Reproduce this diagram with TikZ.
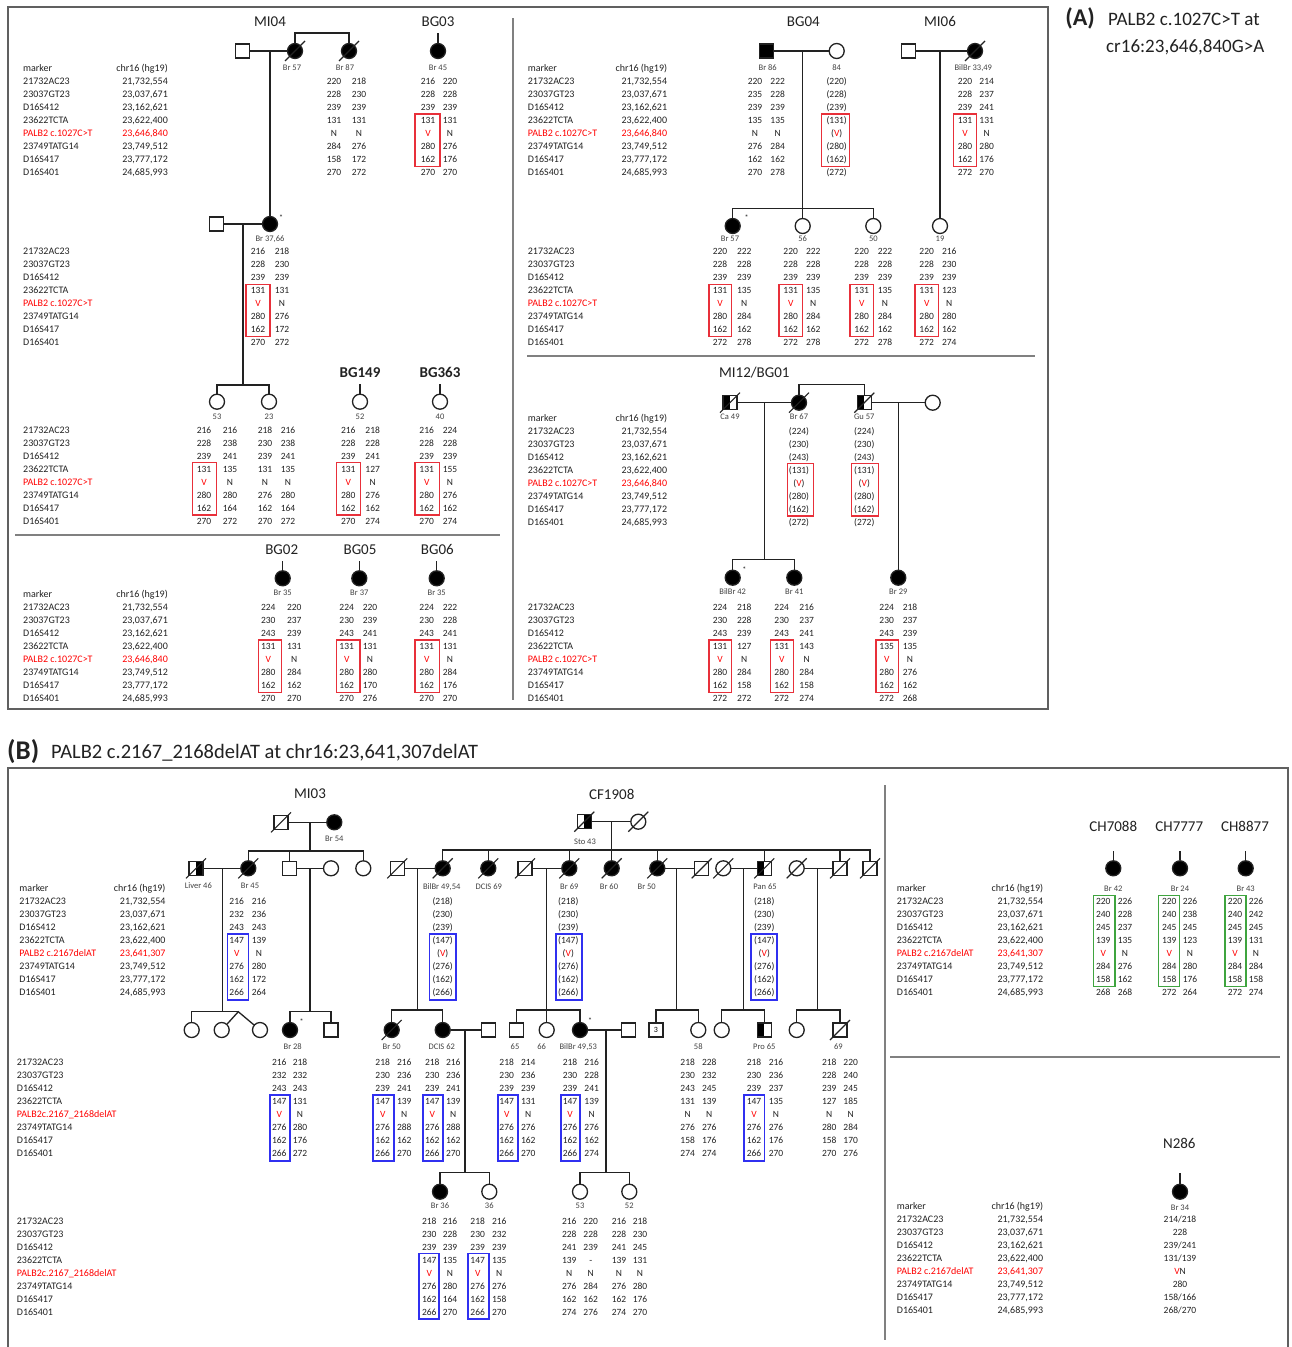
\documentclass[tikz,border=0pt]{standalone}
\usepackage{fontspec}
\setmainfont{Carlito}
\usetikzlibrary{calc}
\definecolor{tx}{HTML}{222222}
\definecolor{fr}{HTML}{606060}
\definecolor{rbox}{HTML}{E8303A}
\definecolor{bbox}{HTML}{3030F0}
\definecolor{gbox}{HTML}{3FA43F}
\newcommand{\V}{\textcolor{red}{V}}
\tikzset{
  gt/.style={font=\fontsize{9.5}{9.5}\selectfont, text=tx, inner sep=0pt, anchor=base},
  mk/.style={font=\fontsize{10}{10}\selectfont, text=tx, inner sep=0pt, anchor=base west},
  ch/.style={font=\fontsize{10}{10}\selectfont, text=tx, inner sep=0pt, anchor=base east},
  lab/.style={font=\fontsize{8.5}{8.5}\selectfont, text=tx!85, inner sep=0pt, anchor=base},
  ttl/.style={font=\fontsize{15}{15}\selectfont, text=tx, inner sep=0pt},
  star/.style={font=\fontsize{8}{8}\selectfont, text=tx, inner sep=0pt},
  ped/.style={line width=1.3pt, draw=tx},
  male/.style={rectangle, draw=tx, line width=1.3pt, minimum size=14pt, inner sep=0pt, fill=white},
  female/.style={circle, draw=tx, line width=1.3pt, minimum size=15pt, inner sep=0pt, fill=white},
  aff/.style={fill=black},
  halfL/.style={path picture={\fill[black] (path picture bounding box.south west) rectangle (path picture bounding box.north);}},
  halfR/.style={path picture={\fill[black] (path picture bounding box.south) rectangle (path picture bounding box.north east);}},
  frame/.style={draw=fr, line width=1.8pt},
  divl/.style={draw=fr!80, line width=1.5pt},
  rb/.style={draw=rbox, line width=1.4pt},
  bb/.style={draw=bbox, line width=1.8pt},
  gb/.style={draw=gbox, line width=1.4pt},
}
% genotype pair columns: name, x1, x2, y0, list
\newcommand{\gp}[5]{\foreach \ga/\gb [count=\i from 0] in {#5} {\node[gt] (#1a\i) at (#2,#4+3+13*\i) {\ga}; \node[gt] (#1b\i) at (#3,#4+3+13*\i) {\gb};}}
% single parenthesised column
\newcommand{\gs}[4]{\foreach \ga [count=\i from 0] in {#4} {\node[gt] (#1s\i) at (#2,#3+3+13*\i) {(\ga)};}}
% box: style, xc, halfwidth, y0, firstrow, lastrow
\newcommand{\bx}[6]{\draw[#1] (#2-#3,#4+13*#5-6.5) rectangle (#2+#3,#4+13*#6+7);}
% marker list
\newcommand{\mlist}[4]{\foreach \m [count=\i from 0] in {21732AC23,23037GT23,D16S412,23622TCTA,{\textcolor{red}{#4}},23749TATG14,D16S417,D16S401} {\node[mk] (#1m\i) at (#2,#3+3+13*\i) {\m};}}
\newcommand{\clist}[4]{\foreach \m [count=\i from 0] in {{21,732,554},{23,037,671},{23,162,621},{23,622,400},{\textcolor{red}{#4}},{23,749,512},{23,777,172},{24,685,993}} {\node[ch] (#1c\i) at (#2,#3+3+13*\i) {\m};}}
\newcommand{\mhead}[4]{\node[mk] (#1h1) at (#2,#4-10) {marker}; \node[ch] (#1h2) at (#3,#4-10) {chr16 (hg19)};}
\newcommand{\dec}[1]{\draw[ped,line width=1.1pt] ([shift={(-10,10)}]#1.center) -- ([shift={(10,-10)}]#1.center);}
\begin{document}
\begin{tikzpicture}[x=1pt,y=-1pt]
\useasboundingbox (0,0) rectangle (1292,1347);
\fill[white] (0,0) rectangle (1292,1347);
%================ SECTION A =================
\draw[frame] (8,7) rectangle (1048,709);
\draw[divl] (513,18) -- (513,700);
\draw[divl] (15,535) -- (500,535);
\draw[divl] (527,356) -- (1035,356);
\node[font=\bfseries\fontsize{24}{24}\selectfont, text=tx, inner sep=0pt] (tA) at (1080,18) {(A)};
\node[font=\fontsize{19}{19}\selectfont, text=tx, inner sep=0pt, anchor=west] (tA1) at (1108,19) {PALB2 c.1027C>T at};
\node[font=\fontsize{19}{19}\selectfont, text=tx, inner sep=0pt, anchor=west] (tA2) at (1106,47) {cr16:23,646,840G>A};
% ---- A left top: MI04, BG03
\node[ttl] (tMI04) at (270,21.7) {MI04};
\node[ttl] (tBG03) at (438,21.7) {BG03};
\mhead{A1}{23}{168}{81.3}
\mlist{A1}{23}{81.3}{PALB2 c.1027C>T}
\clist{A1}{168}{81.3}{23,646,840}
\node[male] (a1) at (242.5,51) {};
\node[female,aff] (a2) at (295,51) {};
\node[female,aff] (a3) at (349,51) {};
\node[female,aff] (a4) at (438,51) {};
\dec{a2}\dec{a3}
\draw[ped] (a1) -- (a2);
\draw[ped] (a2) -- (295,33) -- (349,33) -- (a3);
\draw[ped] (a4) -- ++(0,-18);
\node[lab] (la2) at (292,70) {Br 57};
\node[lab] (la3) at (345,70) {Br 87};
\node[lab] (la4) at (438,70) {Br 45};
\gp{g1}{334}{359}{81.3}{220/218,228/230,239/239,131/131,N/N,284/276,158/172,270/272}
\gp{g2}{428}{450}{81.3}{216/220,228/228,239/239,131/131,\V/N,280/276,162/176,270/270}
\bx{rb}{427.5}{12.5}{81.3}{3}{6}
\node[male] (a5) at (216.7,224) {};
\node[female,aff] (a6) at (270,224) {};
\node[star] (s1) at (281,218) {*};
\draw[ped] (270,51) -- (a6);
\draw[ped] (a5) -- (a6);
\draw[ped] (243,224) -- (243,385);
\node[lab] (la6) at (270,241) {Br 37,66};
\mlist{A2}{23}{251.7}{PALB2 c.1027C>T}
\gp{g3}{258}{282}{251.7}{216/218,228/230,239/239,131/131,\V/N,280/276,162/172,270/272}
\bx{rb}{258}{12}{251.7}{3}{6}
% ---- A left middle
\node[ttl,font=\bfseries\fontsize{15}{15}\selectfont] (tBG149) at (360,372.3) {BG149};
\node[ttl,font=\bfseries\fontsize{15}{15}\selectfont] (tBG363) at (440,372.3) {BG363};
\node[female] (d1) at (217,401.7) {};
\node[female] (d2) at (269,401.7) {};
\node[female] (d3) at (360,401.7) {};
\node[female] (d4) at (440,401.7) {};
\draw[ped] (d1) -- (217,385) -- (269,385) -- (d2);
\draw[ped] (d3) -- ++(0,-17.7);
\draw[ped] (d4) -- ++(0,-17.7);
\node[lab] (ld1) at (217,419.7) {53};
\node[lab] (ld2) at (269,419.7) {23};
\node[lab] (ld3) at (360,419.7) {52};
\node[lab] (ld4) at (440,419.7) {40};
\mlist{A3}{23}{430}{PALB2 c.1027C>T}
\gp{g4}{204}{230}{430}{216/216,228/238,239/241,131/135,\V/N,280/280,162/164,270/272}
\gp{g5}{265}{288}{430}{218/216,230/238,239/241,131/135,N/N,276/280,162/164,270/272}
\gp{g6}{348.3}{372.7}{430}{216/218,228/228,239/241,131/127,\V/N,280/276,162/162,270/274}
\gp{g7}{426.7}{450}{430}{216/224,228/228,239/239,131/155,\V/N,280/276,162/162,270/274}
\bx{rb}{204.7}{12}{430}{3}{6}
\bx{rb}{348.7}{12}{430}{3}{6}
\bx{rb}{427.2}{12.2}{430}{3}{6}
% ---- A left bottom
\node[ttl] (tBG02) at (281.7,549.3) {BG02};
\node[ttl] (tBG05) at (360,549.3) {BG05};
\node[ttl] (tBG06) at (437.3,549.3) {BG06};
\node[female,aff] (e1) at (282.7,578.3) {};
\node[female,aff] (e2) at (359.3,578.3) {};
\node[female,aff] (e3) at (436.7,578.3) {};
\draw[ped] (e1) -- ++(0,-17);
\draw[ped] (e2) -- ++(0,-17);
\draw[ped] (e3) -- ++(0,-17);
\node[lab] (le1) at (282.7,595.3) {Br 35};
\node[lab] (le2) at (359.3,595.3) {Br 37};
\node[lab] (le3) at (436.7,595.3) {Br 35};
\mhead{A4}{23}{168}{607.3}
\mlist{A4}{23}{607.3}{PALB2 c.1027C>T}
\clist{A4}{168}{607.3}{23,646,840}
\gp{g8}{268.3}{294.3}{607.3}{224/220,230/237,243/239,131/131,\V/N,280/284,162/162,270/270}
\gp{g9}{346.7}{370}{607.3}{224/220,230/239,243/241,131/131,\V/N,280/280,162/170,270/276}
\gp{g10}{426.7}{450}{607.3}{224/222,230/228,243/241,131/131,\V/N,280/284,162/176,270/270}
\bx{rb}{269.7}{11.5}{607.3}{3}{6}
\bx{rb}{348.3}{11.7}{607.3}{3}{6}
\bx{rb}{427.2}{12.2}{607.3}{3}{6}
% ---- A right top: BG04, MI06
\node[ttl] (tBG04) at (803.3,21.7) {BG04};
\node[ttl] (tMI06) at (940,21.7) {MI06};
\mhead{A5}{527.7}{667.3}{81.3}
\mlist{A5}{527.7}{81.3}{PALB2 c.1027C>T}
\clist{A5}{667.3}{81.3}{23,646,840}
\node[male,aff] (b1) at (766.7,51) {};
\node[female] (b2) at (836.7,51) {};
\draw[ped] (b1) -- (b2);
\node[female,aff] (b3) at (732.7,226) {};
\node[female] (b4) at (802.7,226) {};
\node[female] (b5) at (873.3,226) {};
\node[star] (s2) at (746.7,218) {*};
\draw[ped] (802.7,51) -- (b4);
\draw[ped] (b3) -- (732.7,208.3) -- (873.3,208.3) -- (b5);
\node[male] (b6) at (908.3,51) {};
\node[female,aff] (b7) at (975,51) {};
\dec{b7}
\draw[ped] (b6) -- (b7);
\node[female] (b8) at (940,226) {};
\draw[ped] (940,51) -- (b8);
\node[lab] (lb1) at (767.7,70) {Br 86};
\node[lab] (lb2) at (836.7,70) {84};
\node[lab] (lb7) at (973.3,70) {BilBr 33,49};
\node[lab] (lb3) at (730,241.3) {Br 57};
\node[lab] (lb4) at (802.7,241.3) {56};
\node[lab] (lb5) at (873.3,241.3) {50};
\node[lab] (lb8) at (940,241.3) {19};
\gp{g11}{755}{777.7}{81.3}{220/222,235/228,239/239,135/135,N/N,276/284,162/162,270/278}
\gs{g12}{836.7}{81.3}{220,228,239,131,\V,280,162,272}
\bx{rb}{835.5}{13.8}{81.3}{3}{6}
\gp{g13}{965}{986.7}{81.3}{220/214,228/237,239/241,131/131,\V/N,280/280,162/176,272/270}
\bx{rb}{964.7}{11.5}{81.3}{3}{6}
\mlist{A6}{527.7}{251.7}{PALB2 c.1027C>T}
\gp{g14}{720}{744.3}{251.7}{220/222,228/228,239/239,131/135,\V/N,280/284,162/162,272/278}
\gp{g15}{790.7}{813.3}{251.7}{220/222,228/228,239/239,131/135,\V/N,280/284,162/162,272/278}
\gp{g16}{861.7}{885}{251.7}{220/222,228/228,239/239,131/135,\V/N,280/284,162/162,272/278}
\gp{g17}{926.7}{949.3}{251.7}{220/216,228/230,239/239,131/123,\V/N,280/280,162/162,272/274}
\bx{rb}{720.3}{11.3}{251.7}{3}{6}
\bx{rb}{790.8}{11.8}{251.7}{3}{6}
\bx{rb}{861.7}{11.7}{251.7}{3}{6}
\bx{rb}{926.7}{11.7}{251.7}{3}{6}
% ---- A right bottom: MI12/BG01
\node[ttl] (tMI12) at (754.3,372.7) {MI12/BG01};
\mhead{A7}{527.7}{667.3}{431}
\mlist{A7}{527.7}{431}{PALB2 c.1027C>T}
\clist{A7}{667.3}{431}{23,646,840}
\node[male,halfL] (c1) at (730,402.7) {};
\node[female,aff] (c2) at (799,402.7) {};
\node[male,halfL] (c3) at (864.3,402.7) {};
\node[female] (c4) at (932.7,402.7) {};
\dec{c1}\dec{c2}\dec{c3}
\draw[ped] (c2) -- (799,384.3) -- (864.3,384.3) -- (c3);
\draw[ped] (c1) -- (c2);
\draw[ped] (c3) -- (c4);
\node[female,aff] (c5) at (732.7,577.7) {};
\node[female,aff] (c6) at (794.3,577.7) {};
\node[female,aff] (c7) at (898.3,577.7) {};
\node[star] (s3) at (744.3,570) {*};
\draw[ped] (764.3,402.7) -- (764.3,559.3);
\draw[ped] (c5) -- (732.7,559.3) -- (794.3,559.3) -- (c6);
\draw[ped] (898.3,402.7) -- (c7);
\node[lab] (lc1) at (730,419) {Ca 49};
\node[lab] (lc2) at (799,419) {Br 67};
\node[lab] (lc3) at (864.3,419) {Gu 57};
\node[lab] (lc5) at (732.7,594.7) {BilBr 42};
\node[lab] (lc6) at (794.3,594.7) {Br 41};
\node[lab] (lc7) at (898.3,594.7) {Br 29};
\gs{g18}{799}{431}{224,230,243,131,\V,280,162,272}
\gs{g19}{864.3}{431}{224,230,243,131,\V,280,162,272}
\bx{rb}{800.5}{12.8}{431}{3}{6}
\bx{rb}{865}{13.3}{431}{3}{6}
\mlist{A8}{527.7}{607.3}{PALB2 c.1027C>T}
\gp{g20}{720}{744.3}{607.3}{224/218,230/228,243/239,131/127,\V/N,280/284,162/158,272/272}
\gp{g21}{781.7}{806.7}{607.3}{224/216,230/237,243/241,131/143,\V/N,280/284,162/158,272/274}
\gp{g22}{886.7}{910}{607.3}{224/218,230/237,243/239,135/135,\V/N,280/276,162/162,272/268}
\bx{rb}{720.3}{11.3}{607.3}{3}{6}
\bx{rb}{782}{11.3}{607.3}{3}{6}
\bx{rb}{887.2}{11.2}{607.3}{3}{6}
%================ SECTION B =================
\node[font=\bfseries\fontsize{27}{27}\selectfont, text=tx, inner sep=0pt, anchor=west] (tB) at (7,752) {(B)};
\node[font=\fontsize{20.5}{20.5}\selectfont, text=tx, inner sep=0pt, anchor=west] (tB1) at (51,753) {PALB2 c.2167\_2168delAT at chr16:23,641,307delAT};
\draw[frame] (8,1347) -- (8,768) -- (1288,768) -- (1288,1347);
\draw[divl] (885,785) -- (885,1340);
\draw[divl] (890,1057) -- (1280,1057);
% ---- MI03
\node[ttl] (tMI03) at (310,793.3) {MI03};
\mhead{B1}{19.3}{165.7}{901.7}
\mlist{B1}{19.3}{901.7}{PALB2 c.2167delAT}
\clist{B1}{165.7}{901.7}{23,641,307}
\node[male] (f1) at (281,822.3) {};
\node[female,aff] (f2) at (334.3,822.3) {};
\dec{f1}
\draw[ped] (f1) -- (f2);
\draw[ped] (310,822.3) -- (310,851);
\node[female,aff] (f3) at (248.3,868.3) {};
\node[male] (f4) at (289.3,868.3) {};
\node[female] (f5) at (331,868.3) {};
\node[female] (f6) at (363.3,868.3) {};
\node[male,halfR] (f0) at (196,868.3) {};
\dec{f3}\dec{f0}
\draw[ped] (f3) -- (248.3,851) -- (363.3,851) -- (f6);
\draw[ped] (289.3,851) -- (f4);
\draw[ped] (f0) -- (f3);
\draw[ped] (f4) -- (f5);
\draw[ped] (222.3,868.3) -- (222.3,1011.7);
\draw[ped] (310,868.3) -- (310,1011.7);
\node[female] (f7) at (191.7,1030) {};
\node[female] (f8) at (221.7,1030) {};
\node[female] (f9) at (260,1030) {};
\draw[ped] (f7) -- (191.7,1011.7) -- (238.3,1011.7);
\draw[ped] (f8) -- (238.3,1011.7) -- (f9);
\node[female,aff] (f10) at (290,1030) {};
\node[male] (f11) at (331,1030) {};
\node[star] (s4) at (301.7,1022) {*};
\draw[ped] (f10) -- (290,1011.7) -- (331,1011.7) -- (f11);
\node[lab] (lf2) at (334.3,841.3) {Br 54};
\node[lab] (lf0) at (198.3,888) {Liver 46};
\node[lab] (lf3) at (250,888) {Br 45};
\node[lab] (lf10) at (292.7,1049.7) {Br 28};
\gp{h01}{236.7}{259}{901.7}{216/216,232/236,243/243,147/139,\V/N,276/280,162/172,266/264}
\bx{bb}{238}{10.5}{901.7}{3}{7}
% ---- CF1908
\node[ttl] (tCF) at (611.7,794) {CF1908};
\node[male,halfR] (h1) at (584.3,821.7) {};
\node[female] (h2) at (638.3,821.7) {};
\dec{h1}\dec{h2}
\draw[ped] (h1) -- (h2);
\node[lab] (lh1) at (585,844.7) {Sto 43};
\node[male] (h3) at (397.3,868.3) {};
\node[female,aff] (h4) at (442.7,868.3) {};
\node[female,aff] (h5) at (488.3,868.3) {};
\node[male] (h6) at (525,868.3) {};
\node[female,aff] (h7) at (569.3,868.3) {};
\node[female,aff] (h8) at (611.7,868.3) {};
\node[female,aff] (h9) at (657.3,868.3) {};
\node[male] (h10) at (701.7,868.3) {};
\node[female] (h11) at (723.3,868.3) {};
\node[male,halfL] (h12) at (764.3,868.3) {};
\node[female] (h13) at (796.7,868.3) {};
\node[male] (h14) at (840,868.3) {};
\node[male] (h15) at (870,868.3) {};
\foreach \n in {h3,h4,h5,h6,h7,h8,h9,h10,h11,h12,h13,h14,h15} {\dec{\n}}
\draw[ped] (611.7,821.7) -- (h8);
\draw[ped] (h4) -- (442.7,850) -- (870,850) -- (h15);
\draw[ped] (488.3,850) -- (h5);
\draw[ped] (569.3,850) -- (h7);
\draw[ped] (657.3,850) -- (h9);
\draw[ped] (764.3,850) -- (h12);
\draw[ped] (840,850) -- (h14);
\draw[ped] (h3) -- (h4);
\draw[ped] (h6) -- (h7);
\draw[ped] (h9) -- (h10);
\draw[ped] (h11) -- (h12);
\draw[ped] (h13) -- (h14);
\draw[ped] (417.7,868.3) -- (417.7,1010);
\draw[ped] (676.7,868.3) -- (676.7,1010);
\draw[ped] (743.3,868.3) -- (743.3,1010);
\draw[ped] (817.7,868.3) -- (817.7,1010);
\node[lab] (lh4) at (441.7,889) {BilBr 49,54};
\node[lab] (lh5) at (488.7,889) {DCIS 69};
\node[lab] (lh7) at (569.3,889) {Br 69};
\node[lab] (lh8) at (609,889) {Br 60};
\node[lab] (lh9) at (646.7,889) {Br 50};
\node[lab] (lh12) at (765,889) {Pan 65};
\gs{h02}{442.7}{901.7}{218,230,239,147,\V,276,162,266}
\gs{h03}{568.3}{901.7}{218,230,239,147,\V,276,162,266}
\gs{h04}{764.3}{901.7}{218,230,239,147,\V,276,162,266}
\bx{bb}{442.7}{13.3}{901.7}{3}{7}
\bx{bb}{568.7}{13}{901.7}{3}{7}
\bx{bb}{764}{13.3}{901.7}{3}{7}
% children row
\node[female,aff] (k1) at (391.7,1030) {};
\node[female,aff] (k2) at (442.7,1030) {};
\node[male] (k3) at (488.3,1030) {};
\dec{k1}
\draw[ped] (k1) -- (391.7,1010) -- (442.7,1010) -- (k2);
\draw[ped] (k2) -- (k3);
\draw[ped] (465,1030) -- (465,1172.7);
\node[male] (k4) at (516.7,1030) {};
\node[female] (k5) at (546.7,1030) {};
\node[female,aff] (k6) at (580,1030) {};
\node[male] (k7) at (628.3,1030) {};
\node[star] (s5) at (590,1020.7) {*};
\draw[ped] (546.7,868.3) -- (k5);
\draw[ped] (k4) -- (516.7,1010) -- (580,1010) -- (k6);
\draw[ped] (k6) -- (k7);
\draw[ped] (606,1030) -- (606,1172.7);
\node[male] (k8) at (656,1030) {\fontsize{8}{8}\selectfont 3};
\node[female] (k9) at (698.3,1030) {};
\draw[ped] (k8) -- (656,1010) -- (698.3,1010) -- (k9);
\node[female] (k10) at (721.7,1030) {};
\node[male,halfL] (k11) at (764.3,1030) {};
\draw[ped] (k10) -- (721.7,1010) -- (764.3,1010) -- (k11);
\node[female] (k12) at (796.7,1030) {};
\node[male] (k13) at (840,1030) {};
\dec{k13}
\draw[ped] (k12) -- (796.7,1010) -- (840,1010) -- (k13);
\node[lab] (lk1) at (391.7,1049.7) {Br 50};
\node[lab] (lk2) at (441.7,1049.7) {DCIS 62};
\node[lab] (lk4) at (515,1049.7) {65};
\node[lab] (lk5) at (541.7,1049.7) {66};
\node[lab] (lk6) at (578.3,1049.7) {BilBr 49,53};
\node[lab] (lk9) at (698.3,1049.7) {58};
\node[lab] (lk11) at (764.3,1049.7) {Pro 65};
\node[lab] (lk13) at (838.3,1049.7) {69};
\mlist{B2}{16.7}{1062.7}{PALB2c.2167\_2168delAT}
\gp{h05}{279.3}{300}{1062.7}{216/218,232/232,243/243,147/131,\V/N,276/280,162/176,266/272}
\gp{h06}{382.7}{404.3}{1062.7}{218/216,230/236,239/241,147/139,\V/N,276/288,162/162,266/270}
\gp{h07}{432.3}{453.3}{1062.7}{218/216,230/236,239/241,147/139,\V/N,276/288,162/162,266/270}
\gp{h08}{506.7}{528.3}{1062.7}{218/214,230/236,239/239,147/131,\V/N,276/276,162/162,266/270}
\gp{h09}{570}{591.7}{1062.7}{218/216,230/228,239/241,147/139,\V/N,276/276,162/162,266/274}
\gp{h10}{687.7}{709.3}{1062.7}{218/228,230/232,243/245,131/139,N/N,276/276,158/176,274/274}
\gp{h11}{754}{776}{1062.7}{218/216,230/236,239/237,147/135,\V/N,276/276,162/176,266/270}
\gp{h12}{829.3}{850.7}{1062.7}{218/220,228/240,239/245,127/185,N/N,280/284,158/170,270/276}
\bx{bb}{280}{10}{1062.7}{3}{7}
\bx{bb}{383.3}{10.7}{1062.7}{3}{7}
\bx{bb}{432.7}{10}{1062.7}{3}{7}
\bx{bb}{507.7}{10}{1062.7}{3}{7}
\bx{bb}{570.3}{9.7}{1062.7}{3}{7}
\bx{bb}{754.2}{10.2}{1062.7}{3}{7}
% grandchildren
\node[female,aff] (m1) at (440,1191.7) {};
\node[female] (m2) at (489.3,1191.7) {};
\draw[ped] (m1) -- (440,1172.7) -- (489.3,1172.7) -- (m2);
\node[female] (m3) at (580,1191.7) {};
\node[female] (m4) at (629.3,1191.7) {};
\draw[ped] (m3) -- (580,1172.7) -- (629.3,1172.7) -- (m4);
\node[lab] (lm1) at (440,1208) {Br 36};
\node[lab] (lm2) at (489.3,1208) {36};
\node[lab] (lm3) at (580,1208) {53};
\node[lab] (lm4) at (629.3,1208) {52};
\mlist{B3}{16.7}{1221}{PALB2c.2167\_2168delAT}
\gp{h13}{429.3}{450}{1221}{218/216,230/228,239/239,147/135,\V/N,276/280,162/164,266/270}
\gp{h14}{477.7}{499.3}{1221}{218/216,230/232,239/239,147/135,\V/N,276/276,162/158,266/270}
\gp{h15}{569.3}{590.7}{1221}{216/220,228/228,241/239,139/-,N/N,276/284,162/162,274/276}
\gp{h16}{619}{640}{1221}{216/218,228/230,241/245,139/131,N/N,276/280,162/176,274/270}
\bx{bb}{429.3}{10}{1221}{3}{7}
\bx{bb}{478.8}{10.5}{1221}{3}{7}
% ---- B right top: CH families
\node[ttl] (tCH1) at (1113.3,826.7) {CH7088};
\node[ttl] (tCH2) at (1179.3,826.7) {CH7777};
\node[ttl] (tCH3) at (1245,826.7) {CH8877};
\node[female,aff] (n1) at (1113.3,868.3) {};
\node[female,aff] (n2) at (1180,868.3) {};
\node[female,aff] (n3) at (1245.7,868.3) {};
\draw[ped] (n1) -- ++(0,-17.3);
\draw[ped] (n2) -- ++(0,-17.3);
\draw[ped] (n3) -- ++(0,-17.3);
\node[lab] (ln1) at (1113.3,891.3) {Br 42};
\node[lab] (ln2) at (1180,891.3) {Br 24};
\node[lab] (ln3) at (1245.7,891.3) {Br 43};
\mhead{B4}{896.7}{1043.3}{901.7}
\mlist{B4}{896.7}{901.7}{PALB2 c.2167delAT}
\clist{B4}{1043.3}{901.7}{23,641,307}
\gp{h17}{1103.3}{1125}{901.7}{220/226,240/228,245/237,139/135,\V/N,284/276,158/162,268/268}
\gp{h18}{1169.3}{1190}{901.7}{220/226,240/238,245/245,139/123,\V/N,284/280,158/176,272/264}
\gp{h19}{1235}{1256}{901.7}{220/226,240/242,245/245,139/131,\V/N,284/284,158/158,272/274}
\bx{gb}{1104.2}{10.8}{901.7}{0}{6}
\bx{gb}{1168.8}{10.5}{901.7}{0}{6}
\bx{gb}{1235.5}{10.5}{901.7}{0}{6}
% ---- B right bottom: N286
\node[ttl] (tN286) at (1179.3,1143.3) {N286};
\node[female,aff] (n4) at (1180,1191.7) {};
\draw[ped] (n4) -- ++(0,-19);
\node[lab] (ln4) at (1180,1210.3) {Br 34};
\mhead{B5}{896.7}{1043.3}{1219.3}
\mlist{B5}{896.7}{1219.3}{PALB2 c.2167delAT}
\clist{B5}{1043.3}{1219.3}{23,641,307}
\foreach \v [count=\i from 0] in {214/218,228,239/241,131/139,{\V N},280,158/166,268/270} {\node[gt] (h20s\i) at (1180,1219.3+3+13*\i) {\v};}
\end{tikzpicture}
\end{document}
